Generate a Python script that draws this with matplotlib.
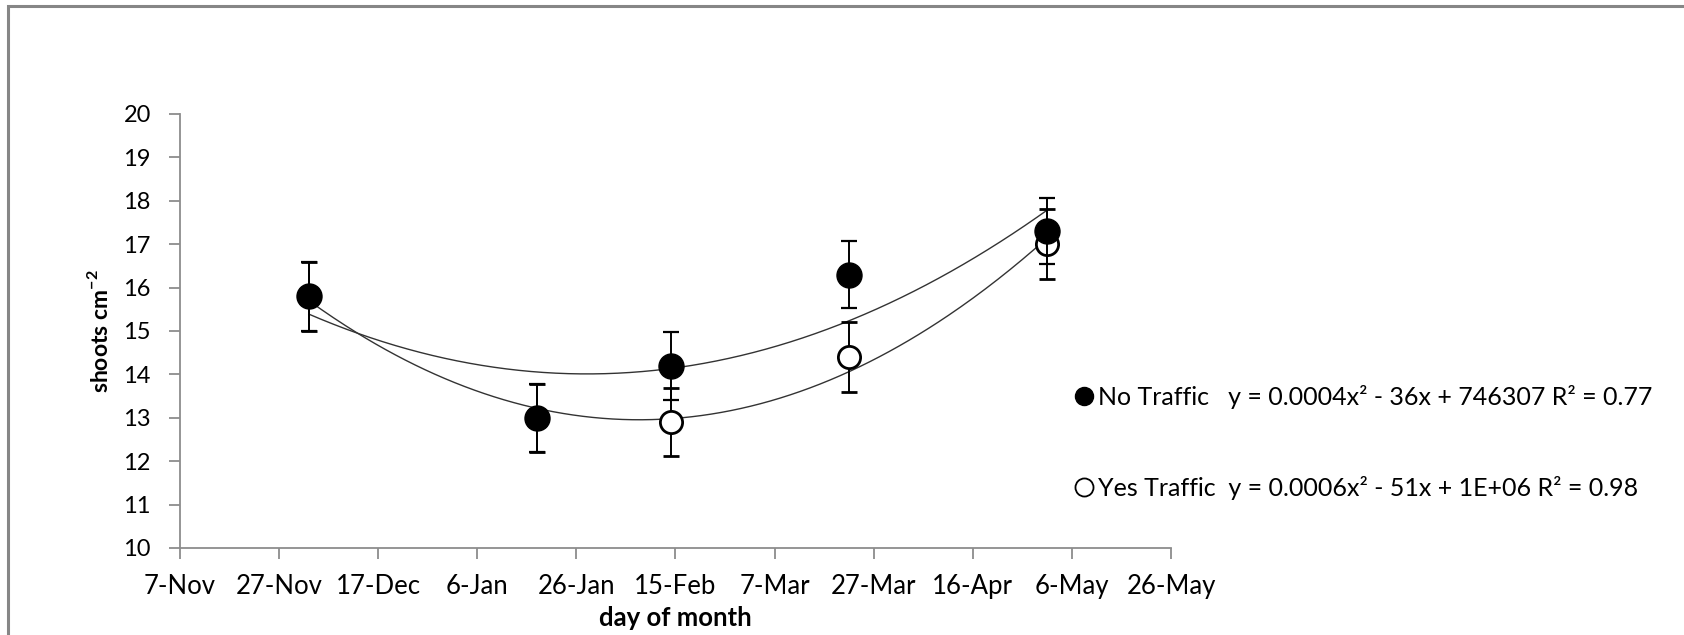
import matplotlib
matplotlib.use("Agg")
import matplotlib.pyplot as plt
import matplotlib.dates as mdates
from matplotlib.lines import Line2D
from matplotlib.patches import Rectangle
import numpy as np
import pandas as pd

# sampling dates and shoot counts
dates = ['2009-12-03', '2010-01-18', '2010-02-14', '2010-03-22', '2010-05-01']
no_traffic = [15.8, 13.0, 14.2, 16.3, 17.3]
no_traffic_err = [0.8, 0.78, 0.78, 0.77, 0.76]
yes_traffic = [15.8, 13.0, 12.9, 14.4, 17.0]
yes_traffic_err = [0.8, 0.78, 0.78, 0.8, 0.8]

tick_start = '2009-11-07'
tick_labels = ['7-Nov', '27-Nov', '17-Dec', '6-Jan', '26-Jan', '15-Feb',
               '7-Mar', '27-Mar', '16-Apr', '6-May', '26-May']
eq_no = 'y = 0.0004x\u00b2 - 36x + 746307 R\u00b2 = 0.77'
eq_yes = 'y = 0.0006x\u00b2 - 51x + 1E+06 R\u00b2 = 0.98'

plt.rcParams['font.family'] = ['Lato', 'DejaVu Sans']
plt.rcParams['mathtext.fontset'] = 'custom'
plt.rcParams['mathtext.rm'] = 'Lato'
plt.rcParams['mathtext.bf'] = 'Lato:bold'

fig = plt.figure(figsize=(16.84, 6.35), dpi=100)
ax = fig.add_axes([180 / 1684, 1 - 548 / 635, 991 / 1684, 434 / 635])

# outer frame (only top/left visible in the original)
fig.patches.append(Rectangle((8 / 1684, -0.1), 1.2, 1.1 - 6 / 635, transform=fig.transFigure,
                             fill=False, edgecolor='#868686', linewidth=2.2))

x = mdates.date2num(pd.to_datetime(dates))

# quadratic trendlines
xs = np.linspace(x[0], x[-1], 300)
for vals in [no_traffic, yes_traffic]:
    c = np.polyfit(x, vals, 2)
    ax.plot(xs, np.polyval(c, xs), color='#333333', linewidth=1.0, zorder=2)

ax.errorbar(x, yes_traffic, yerr=yes_traffic_err, fmt='o', color='black',
            markerfacecolor='white', markeredgecolor='black', markeredgewidth=2,
            markersize=16, ecolor='black', elinewidth=1.4, capsize=6, capthick=1.6, zorder=3)
ax.errorbar(x, no_traffic, yerr=no_traffic_err, fmt='o', color='black',
            markersize=18, ecolor='black', elinewidth=1.4, capsize=6, capthick=1.6, zorder=4)

ticks = mdates.date2num(pd.date_range(tick_start, periods=len(tick_labels), freq='20D'))
ax.set_xlim(ticks[0], ticks[-1])
ax.set_xticks(ticks)
ax.set_xticklabels(tick_labels)
ax.set_ylim(10, 20)
ax.set_yticks(range(10, 21))

for s in ['top', 'right']:
    ax.spines[s].set_visible(False)
for s in ['left', 'bottom']:
    ax.spines[s].set_color('#8c8c8c')
    ax.spines[s].set_linewidth(1.3)
ax.tick_params(axis='both', colors='#8c8c8c', length=8, width=1.3, labelcolor='black')
ax.tick_params(axis='y', pad=13, labelsize=17)
ax.tick_params(axis='x', pad=11, labelsize=18.5)

ax.set_xlabel('day of month', fontsize=18.5, fontweight='bold', labelpad=4.5)
ax.set_ylabel('shoots cm$^{\\mathbf{-2}}$', fontsize=16.5, fontweight='bold', labelpad=8)

handles = [Line2D([], [], marker='o', linestyle='none', color='black', markersize=13),
           Line2D([], [], marker='o', linestyle='none', markerfacecolor='white',
                  markeredgecolor='black', markeredgewidth=1.3, markersize=13)]
leg = fig.legend(handles, ['No Traffic   ' + eq_no, 'Yes Traffic  ' + eq_yes],
                 loc='upper left', bbox_to_anchor=(1063 / 1684, 1 - 372 / 635),
                 frameon=False, fontsize=18, handlelength=0.7, handletextpad=0.2,
                 labelspacing=2.7, borderpad=0)

fig.savefig('out.png', dpi=100)
